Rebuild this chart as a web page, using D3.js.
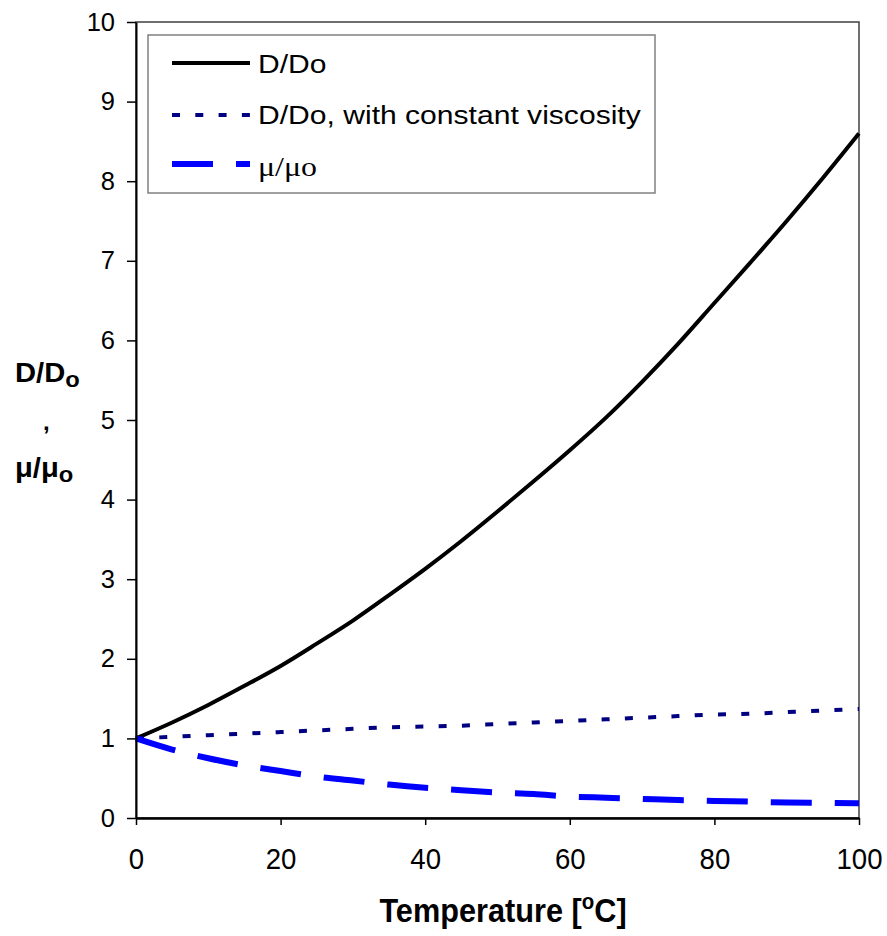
<!DOCTYPE html>
<html><head><meta charset="utf-8">
<script src="https://cdn.jsdelivr.net/npm/d3@7"></script>
<style>body{margin:0;background:#fff} svg{display:block}</style>
</head><body>
<script>
// ---- data ----
const temperature = [0,5,10,15,20,25,30,35,40,45,50,55,60,65,70,75,80,85,90,95,100];
const diffusivityRatio = [1.0,1.2,1.42,1.66,1.91,2.19,2.48,2.8,3.13,3.48,3.85,4.23,4.62,5.03,5.48,5.96,6.47,6.98,7.5,8.04,8.6];
const diffusivityRatioConstVisc = [1.0,1.02,1.04,1.06,1.08,1.10,1.12,1.14,1.15,1.16,1.18,1.20,1.22,1.24,1.26,1.28,1.30,1.31,1.33,1.35,1.37];
const viscosityRatio = [1.0,0.86,0.75,0.66,0.59,0.52,0.47,0.42,0.38,0.35,0.32,0.30,0.27,0.255,0.24,0.225,0.215,0.205,0.195,0.19,0.185];
const seriesNames = ["D/Do", "D/Do, with constant viscosity", "μ/μo"];
const xTicks = [0,20,40,60,80,100];
const yTicks = [0,1,2,3,4,5,6,7,8,9,10];
const xTitle = "Temperature [";
const yTitleLines = ["D/D", ",", "μ/μ"];

// ---- layout ----
const W = 887, H = 936;
const x = d3.scaleLinear().domain([0,100]).range([136,859]);
const y = d3.scaleLinear().domain([0,10]).range([818,22]);
const FONT = "'Liberation Sans', Arial, sans-serif";

const svg = d3.select("body").append("svg").attr("width", W).attr("height", H)
  .style("font-family", FONT);

// plot frame
svg.append("rect")
  .attr("x", x(0)).attr("y", y(10))
  .attr("width", x(100) - x(0)).attr("height", y(0) - y(10))
  .attr("fill", "none").attr("stroke", "#404040").attr("stroke-width", 1.5);

// series
const series = [
  {name: seriesNames[0], values: diffusivityRatio, color: "#000000", width: 4, dash: null},
  {name: seriesNames[1], values: diffusivityRatioConstVisc, color: "#000080", width: 4, dash: "8,15.3"},
  {name: seriesNames[2], values: viscosityRatio, color: "#0000FF", width: 6, dash: "41,23"}
];
const line = d3.line().x(d => x(d[0])).y(d => y(d[1])).curve(d3.curveMonotoneX);
series.forEach(s => {
  svg.append("path")
    .datum(temperature.map((t, i) => [t, s.values[i]]))
    .attr("d", line)
    .attr("fill", "none")
    .attr("stroke", s.color)
    .attr("stroke-width", s.width)
    .attr("stroke-dasharray", s.dash)
    .attr("stroke-linejoin", "round");
});

// axes
const yAxis = svg.append("g").attr("transform", `translate(${x(0)},0)`)
  .call(d3.axisLeft(y).tickValues(yTicks).tickSize(9).tickSizeOuter(0).tickPadding(12).tickFormat(d3.format("d")));
yAxis.select(".domain").attr("stroke", "#000").attr("stroke-width", 2);
yAxis.selectAll(".tick line").attr("stroke", "#000").attr("stroke-width", 1.5);
yAxis.selectAll(".tick text").attr("font-size", 25.5).attr("fill", "#000").attr("font-family", FONT);

const xAxis = svg.append("g").attr("transform", `translate(0,${y(0)})`)
  .call(d3.axisBottom(x).tickValues(xTicks).tickSize(7).tickSizeOuter(0).tickPadding(0).tickFormat(d3.format("d")));
xAxis.select(".domain").attr("stroke", "#000").attr("stroke-width", 2.5);
xAxis.selectAll(".tick line").attr("stroke", "#000").attr("stroke-width", 1.5);
xAxis.selectAll(".tick text").attr("font-size", 30).attr("fill", "#000").attr("font-family", FONT)
  .attr("dy", null).attr("y", 0)
  .attr("transform", "translate(0,51) scale(0.92,1)");

// x title
const xt = svg.append("text")
  .attr("x", 0).attr("y", 0)
  .attr("transform", `translate(503,922) scale(0.93,1)`)
  .attr("text-anchor", "middle")
  .attr("font-size", 33).attr("font-weight", "bold").attr("fill", "#000");
xt.append("tspan").text(xTitle);
xt.append("tspan").attr("font-size", 22).attr("dy", -13).text("o");
xt.append("tspan").attr("dy", 13).text("C]");

// y title (three lines)
const yt1 = svg.append("text").attr("transform", "translate(15,382) scale(1.08,1)")
  .attr("font-size", 27).attr("font-weight", "bold").attr("fill", "#000");
yt1.append("tspan").text(yTitleLines[0]);
yt1.append("tspan").attr("font-size", 22).attr("dy", 5).text("o");
svg.append("text").attr("x", 43).attr("y", 430)
  .attr("font-size", 24).attr("font-weight", "bold").attr("fill", "#000").text(yTitleLines[1]);
const yt3 = svg.append("text").attr("transform", "translate(15,477) scale(1.08,1)")
  .attr("font-size", 27).attr("font-weight", "bold").attr("fill", "#000");
yt3.append("tspan").text(yTitleLines[2]);
yt3.append("tspan").attr("font-size", 22).attr("dy", 5).text("o");

// legend
const lg = svg.append("g");
lg.append("rect").attr("x", 148).attr("y", 35).attr("width", 507).attr("height", 158)
  .attr("fill", "#fff").attr("stroke", "#808080").attr("stroke-width", 1.5);
const rowY = [63, 115, 164];
const baseY = [73, 124, 176];
series.forEach((s, i) => {
  lg.append("line").attr("x1", 172).attr("x2", 250).attr("y1", rowY[i]).attr("y2", rowY[i])
    .attr("stroke", s.color).attr("stroke-width", s.width).attr("stroke-dasharray", s.dash);
  lg.append("text")
    .attr("transform", `translate(258,${baseY[i]}) scale(1.18,1)`)
    .attr("font-size", i === 2 ? 27 : 25.5)
    .attr("font-family", i === 2 ? "'Liberation Serif', 'Times New Roman', serif" : FONT)
    .attr("fill", "#000")
    .text(s.name);
});
</script>
</body></html>
